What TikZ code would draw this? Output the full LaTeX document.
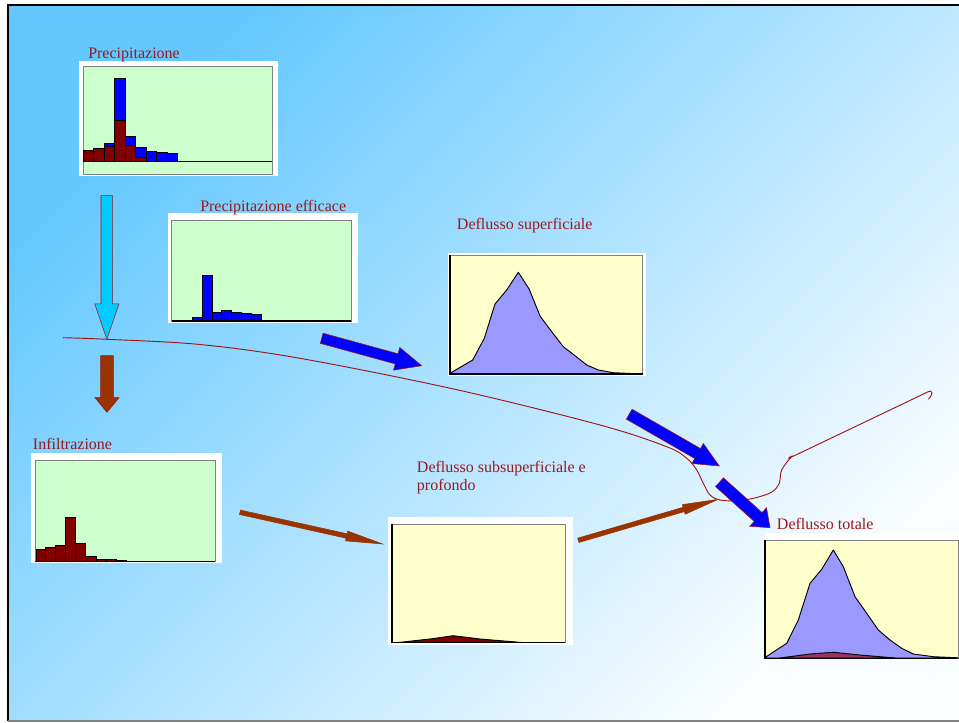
\documentclass[tikz,border=0pt]{standalone}
\usepackage{fontspec}
\setmainfont{Liberation Serif}
\usetikzlibrary{calc}
\definecolor{txtred}{RGB}{155,25,30}
\definecolor{curvered}{RGB}{160,20,20}
\definecolor{pgreen}{RGB}{204,255,204}
\definecolor{pyellow}{RGB}{255,255,204}
\definecolor{peri}{RGB}{153,153,255}
\definecolor{darkred}{RGB}{128,0,0}
\definecolor{brownar}{RGB}{153,51,0}
\definecolor{mauve}{RGB}{153,51,102}
\definecolor{cyanar}{RGB}{0,204,255}
\definecolor{bgA}{RGB}{100,200,255}
\definecolor{bgB}{RGB}{172,222,255}
\definecolor{bgC}{RGB}{250,253,255}
\tikzset{
  lbl/.style={font=\fontsize{12}{14.5}\selectfont, text=txtred, inner sep=0pt, anchor=base west},
  plotg/.style={fill=pgreen, draw=gray, line width=0.6},
  ploty/.style={fill=pyellow, draw=gray, line width=0.6},
  barb/.style={fill=blue, draw=black, line width=0.7},
  barr/.style={fill=darkred, draw=black, line width=0.7},
  axisln/.style={black, line width=1.1},
  hydro/.style={draw=black, line width=0.7, line join=round},
  fatblue/.style={fill=blue, draw=curvered, line width=0.4, line join=miter},
  fatbrown/.style={fill=brownar, draw=brownar, line width=0.4},
  fatcyan/.style={fill=cyanar, draw=curvered, line width=0.4},
  curvestyle/.style={draw=curvered, line width=0.7}
}
% #1 style, #2 tail, #3 tip, #4 shaft width, #5 head width, #6 head length (px)
\newcommand{\fatarr}[6]{%
  \coordinate (fac) at ($(#3)!#6*0.75pt!(#2)$);
  \draw[#1] ($(#2)!#4*0.375pt!90:(#3)$) -- ($(fac)!#4*0.375pt!90:(#3)$)
    -- ($(fac)!#5*0.375pt!90:(#3)$) -- (#3)
    -- ($(fac)!#5*0.375pt!-90:(#3)$) -- ($(fac)!#4*0.375pt!-90:(#3)$)
    -- ($(#2)!#4*0.375pt!-90:(#3)$) -- cycle;
}
\begin{document}
\begin{tikzpicture}[x=0.75pt,y=-0.75pt]
\useasboundingbox (0,0) rectangle (959,723);
\fill[white] (0,0) rectangle (959,723);
\shade[top color=bgA, middle color=bgB, bottom color=bgC, shading angle=45] (8,5) rectangle (959,721);
\draw[black, line width=1.5] (8,721) -- (8,5) -- (959,5);
\draw[gray, line width=1] (8,721) -- (959,721);

% ---- chart 1: Precipitazione
\fill[white] (79,61) rectangle (278,176);
\draw[plotg] (83,66) rectangle (272,174);
\foreach \a/\b/\t in {104/114.5/143.7, 114.5/125/78, 125/135.5/136.7, 135.5/146/147.3, 146/156.5/151.3, 156.5/167/152.3, 167/177.5/153.3}
  \draw[barb] (\a,161.3) rectangle (\b,\t);
\foreach \a/\b/\t in {83/93.5/150.3, 93.5/104/148.7, 104/114.5/146.7, 114.5/125/120.7, 125/135.5/145.3, 135.5/146/157.3}
  \draw[barr] (\a,161.3) rectangle (\b,\t);
\draw[axisln] (83,161.3) -- (272,161.3);
\node[lbl] (tPrec) at (88,59) {Precipitazione};

% ---- chart 2: Precipitazione efficace
\fill[white] (167.7,213) rectangle (358,323);
\draw[plotg] (171.7,220.3) rectangle (351,321.7);
\foreach \a/\b/\t in {192/202.3/317.7, 202.3/212/275.7, 212/221.7/312.3, 221.7/231.7/310, 231.7/241.7/312.3, 241.7/251.7/313, 251.7/261.7/314}
  \draw[barb] (\a,321) rectangle (\b,\t);
\draw[axisln] (171.7,321) -- (351,321);
\node[lbl] (tEff) at (200,211.5) {Precipitazione efficace};

% ---- chart 3: Infiltrazione
\fill[white] (31,452.7) rectangle (222,562.7);
\draw[plotg] (35.3,460) rectangle (215.3,561.7);
\foreach \a/\b/\t in {36/45.7/549.3, 45.7/55.7/547.7, 55.7/65.7/545, 65.7/75.7/517.7, 75.7/85.7/543.7, 85.7/96/556.7, 96/106/559.3, 106/116/559.3, 116/126/560}
  \draw[barr] (\a,561.3) rectangle (\b,\t);
\draw[axisln] (35.3,561.3) -- (215.3,561.3);
\node[lbl] (tInf) at (32.7,449) {Infiltrazione};

% ---- chart 4: Deflusso superficiale
\fill[white] (448,252.7) rectangle (646,376);
\draw[ploty] (450,255) rectangle (642.7,374.3);
\draw[hydro, fill=peri] (450,374) -- (450,373.3) -- (472.7,360) -- (484.3,338.3) -- (495,304) -- (506.7,290) -- (518.3,272.3) -- (529.3,289.3) -- (540,316) -- (551.7,331.7) -- (563.3,346.7) -- (575,355.7) -- (586.7,365) -- (598.3,370) -- (613.3,372.7) -- (642.7,374) -- cycle;
\draw[axisln] (450,255) -- (450,374) -- (642.7,374);
\node[lbl] (tSup) at (456.7,230) {Deflusso superficiale};

% ---- chart 5: Deflusso subsuperficiale e profondo
\fill[white] (388,516.7) rectangle (573.3,645);
\draw[ploty] (392,524) rectangle (565,642.7);
\draw[hydro, fill=darkred] (398,642.5) -- (430,639) -- (453.3,635.7) -- (480,639) -- (522,642.5) -- cycle;
\draw[axisln] (392,524) -- (392,642.7) -- (565,642.7);
\node[lbl] (tSub1) at (416.7,472) {Deflusso subsuperficiale e};
\node[lbl] (tSub2) at (416.7,490.7) {profondo};

% ---- chart 6: Deflusso totale
\fill[white] (765,533.3) rectangle (959,660);
\draw[ploty] (765,540) rectangle (958.3,658.3);
\draw[hydro, fill=peri] (765,658) -- (765,657.5) -- (786.7,643.3) -- (798.3,620) -- (810,583.3) -- (821.7,569.3) -- (833.3,550) -- (843.3,566.7) -- (855,596.7) -- (866.7,613.3) -- (878.3,630) -- (890,640) -- (901.7,648.3) -- (913.3,654) -- (933.3,656.7) -- (958,657.8) -- (958,658) -- cycle;
\draw[hydro, fill=mauve] (780,658) -- (810,654) -- (833.3,652.3) -- (860,655) -- (895,658) -- cycle;
\draw[axisln] (765,540) -- (765,658.3) -- (958.3,658.3);
\node[lbl] (tTot) at (776.7,529) {Deflusso totale};

% ---- dividing curve
\draw[curvestyle] plot[smooth, tension=0.55] coordinates {(63,337.7) (107,339.3) (200,344.5) (300,358.3) (455,389.3) (600,425) (666.7,446.7) (686.7,458.3) (696.7,470) (703.3,483.3) (710,495) (720,500) (736,500.7) (753.3,498.3) (771,492.5) (779,484) (781.7,470) (791.7,456.7) (800,453) (928.3,391.7)}
  .. controls (932,389.5) and (934,393) .. (928.5,399.3);

% ---- arrows
\coordinate (cyT) at (106.85,195.7);  \coordinate (cyH) at (106.85,339.3);
\coordinate (brT) at (107,355.7);     \coordinate (brH) at (107,412.3);
\coordinate (aT) at (321.7,338.3);    \coordinate (aH) at (421.7,365.7);
\coordinate (bT) at (629.2,414.2);    \coordinate (bH) at (719.3,466);
\coordinate (cT) at (719.5,482.2);    \coordinate (cH) at (770,527.7);
\coordinate (dT) at (240,512.3);      \coordinate (dH) at (382.7,544);
\coordinate (eT) at (578.3,540.3);    \coordinate (eH) at (718.3,499.3);
\fatarr{fatcyan}{cyT}{cyH}{11.7}{24.3}{35.5}
\fatarr{fatbrown, draw=curvered}{brT}{brH}{12.6}{24}{14.6}
\fatarr{fatblue}{aT}{aH}{10.5}{23.5}{26}
\fatarr{fatblue}{bT}{bH}{11.5}{23}{25}
\fatarr{fatblue}{cT}{cH}{11.8}{25}{16}
\fatarr{fatbrown}{dT}{dH}{4.5}{10}{37}
\fatarr{fatbrown}{eT}{eH}{4.5}{10}{36}
\end{tikzpicture}
\end{document}
